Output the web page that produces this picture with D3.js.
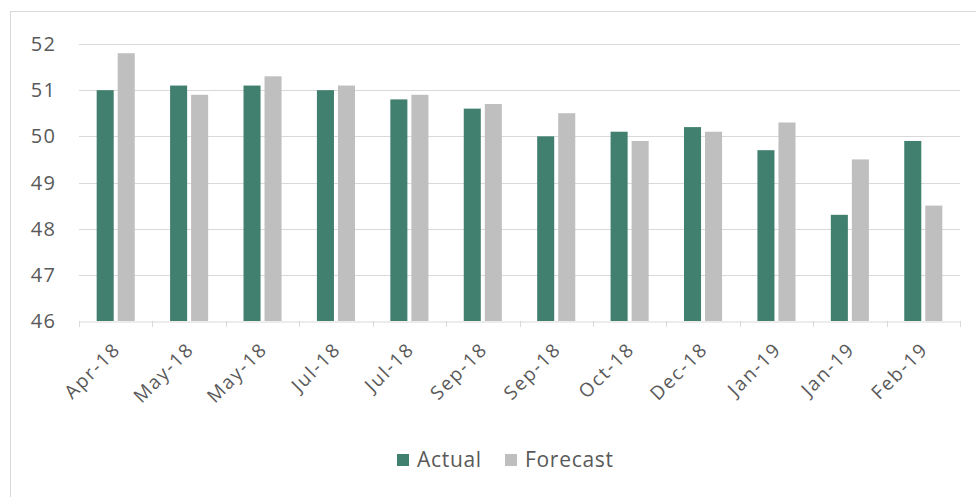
<!DOCTYPE html>
<html>
<head>
<meta charset="utf-8">
<script src="https://cdn.jsdelivr.net/npm/d3@7"></script>
<style>
  html, body { margin: 0; padding: 0; background: #fff; }
  svg { display: block; font-family: "Open Sans", "Noto Sans", sans-serif; }
</style>
</head>
<body>
<svg id="chart" width="976" height="497"></svg>
<script>
// Month labels (repeats are in the source chart)
const categories = ['Apr-18', 'May-18', 'May-18', 'Jul-18', 'Jul-18', 'Sep-18',
                    'Sep-18', 'Oct-18', 'Dec-18', 'Jan-19', 'Jan-19', 'Feb-19'];
const actual   = [51.0, 51.1, 51.1, 51.0, 50.8, 50.6, 50.0, 50.1, 50.2, 49.7, 48.3, 49.9];
const forecast = [51.8, 50.9, 51.3, 51.1, 50.9, 50.7, 50.5, 49.9, 50.1, 50.3, 49.5, 48.5];
const seriesNames = ['Actual', 'Forecast'];
const yTicks = [46, 47, 48, 49, 50, 51, 52];

const colors = { Actual: '#41806f', Forecast: '#bfbfbf' };
const textColor = '#595959';
const gridColor = '#d9d9d9';

const svg = d3.select('#chart');

// outer chart frame (runs off the right/bottom of the picture)
svg.append('rect')
    .attr('x', 10.5).attr('y', 11.5)
    .attr('width', 1000).attr('height', 600)
    .attr('fill', 'none')
    .attr('stroke', gridColor);

const plotLeft = 79, plotRight = 960, plotTop = 44, plotBottom = 321;

// index keys so repeated month names get their own slot
const x = d3.scaleBand()
    .domain(d3.range(categories.length))
    .range([plotLeft, plotRight])
    .padding(0);

const xInner = d3.scaleBand()
    .domain(seriesNames)
    .range([0, x.bandwidth()])
    .paddingInner(0.19)
    .paddingOuter(0.84);

const y = d3.scaleLinear()
    .domain([46, 52])
    .range([plotBottom, plotTop]);

// gridlines
svg.append('g')
    .selectAll('line')
    .data(yTicks.filter(d => d !== 46))
    .enter().append('line')
    .attr('x1', plotLeft).attr('x2', plotRight)
    .attr('y1', d => Math.round(y(d)) + 0.5)
    .attr('y2', d => Math.round(y(d)) + 0.5)
    .attr('stroke', gridColor)
    .attr('stroke-width', 1);

// y tick labels
svg.append('g')
    .selectAll('text')
    .data(yTicks)
    .enter().append('text')
    .attr('x', 56.5)
    .attr('y', d => y(d))
    .attr('dy', '0.35em')
    .attr('text-anchor', 'end')
    .attr('fill', textColor)
    .style('font-size', '20px')
    .style('letter-spacing', '1.5px')
    .text(d => d);

// bars
const rows = categories.map((c, i) => ({ i: i, Actual: actual[i], Forecast: forecast[i] }));

const groups = svg.append('g')
    .selectAll('g')
    .data(rows)
    .enter().append('g')
    .attr('transform', d => `translate(${x(d.i)},0)`);

groups.selectAll('rect')
    .data(d => seriesNames.map(s => ({ key: s, value: d[s] })))
    .enter().append('rect')
    .attr('x', d => xInner(d.key))
    .attr('width', xInner.bandwidth())
    .attr('y', d => y(d.value))
    .attr('height', d => y(46) - y(d.value))
    .attr('fill', d => colors[d.key]);

// category axis
const xAxis = d3.axisBottom(x)
    .tickSize(0)
    .tickFormat(i => categories[i]);

const axisG = svg.append('g')
    .attr('transform', `translate(0,${plotBottom + 0.5})`)
    .call(xAxis)
    .attr('font-family', null)
    .attr('font-size', null);

axisG.select('.domain').attr('stroke', gridColor);

axisG.selectAll('text')
    .attr('fill', textColor)
    .style('font-size', '19px')
    .style('letter-spacing', '1.8px')
    .attr('text-anchor', 'end')
    .attr('dy', null)
    .attr('y', 0)
    .attr('transform', 'translate(6,29) rotate(-45)');

// tick marks at band boundaries
svg.append('g')
    .selectAll('line')
    .data(d3.range(categories.length + 1))
    .enter().append('line')
    .attr('x1', i => Math.round(plotLeft + i * x.step()) + 0.5)
    .attr('x2', i => Math.round(plotLeft + i * x.step()) + 0.5)
    .attr('y1', plotBottom)
    .attr('y2', plotBottom + 6)
    .attr('stroke', gridColor);

// legend
const legend = svg.append('g').attr('transform', 'translate(397,454)');
const legendItems = legend.selectAll('g')
    .data(seriesNames)
    .enter().append('g')
    .attr('transform', (d, i) => `translate(${i * 108},0)`);

legendItems.append('rect')
    .attr('width', 12).attr('height', 12)
    .attr('fill', d => colors[d]);

legendItems.append('text')
    .attr('x', 20)
    .attr('y', 6)
    .attr('dy', '0.35em')
    .attr('fill', textColor)
    .style('font-size', '21px')
    .style('letter-spacing', '0.7px')
    .text(d => d);
</script>
</body>
</html>
